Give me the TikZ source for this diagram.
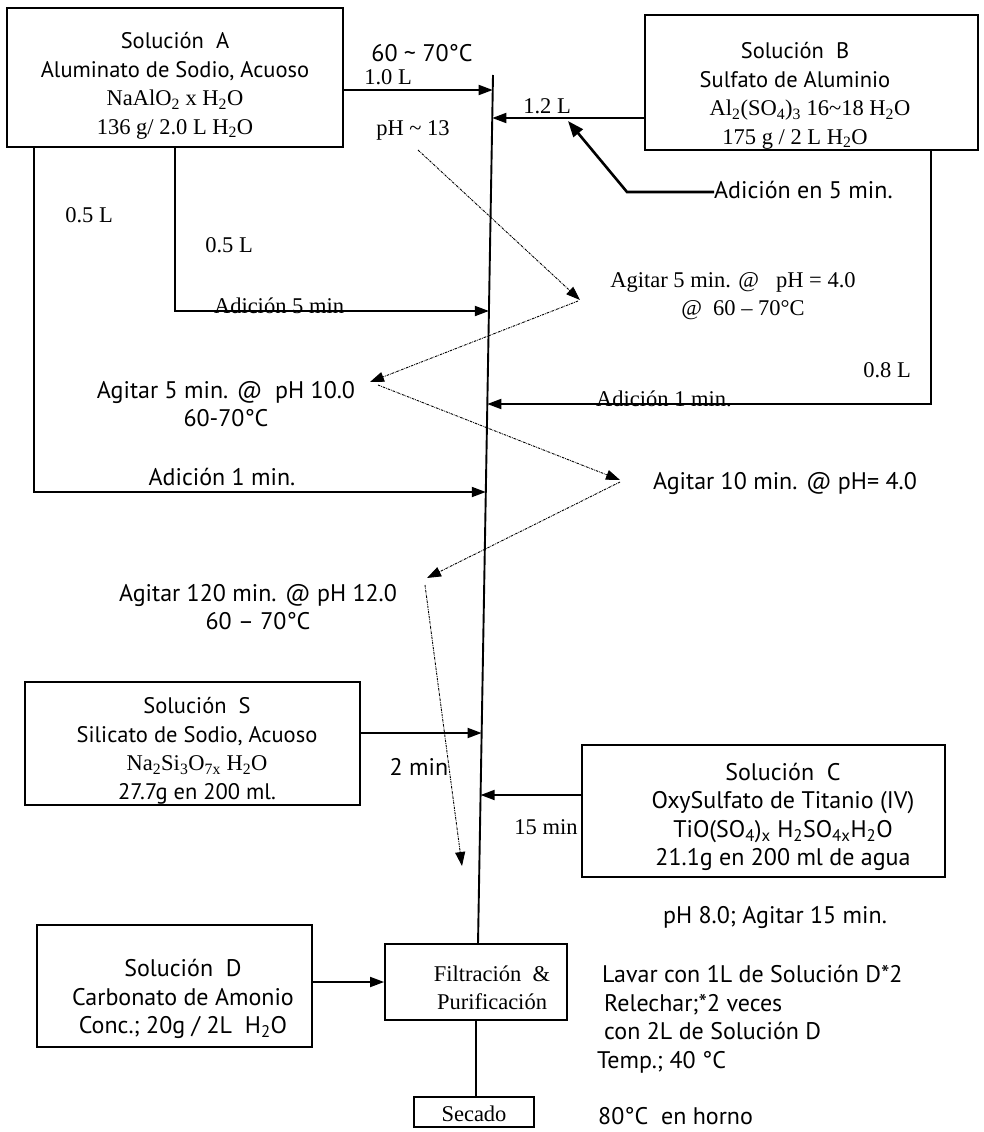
\documentclass[tikz,border=0pt]{standalone}
\usepackage{fontspec}
\setmainfont{Liberation Serif}
\newfontfamily\opt{PT Sans}
\usetikzlibrary{arrows.meta,calc}
\begin{document}
\begin{tikzpicture}[x=1pt,y=-1pt,
  box/.style={draw,line width=1.8pt,inner sep=0pt},
  tx/.style={font=\fontsize{22.5}{28.5}\selectfont,align=center,inner sep=0pt},
  op/.style={font=\opt\fontsize{24}{28.5}\selectfont,align=center,inner sep=0pt},
  arr/.style={-{Triangle[length=14pt,width=10pt]},line width=1.8pt},
  thickarr/.style={-{Triangle[length=16pt,width=12pt]},line width=2.6pt},
  dotarr/.style={-{Triangle[length=14pt,width=10pt]},line width=0.9pt,dash pattern=on 2.5pt off 1pt on 0.7pt off 1pt},
  mainln/.style={line width=1.9pt}]
\useasboundingbox (0,0) rectangle (984,1132);

% boxes
\node[box,minimum width=336pt,minimum height=139pt] (A) at (175,77.5) {};
\node[tx] (Atx) at (175,86) {{\opt Solución\ \ A}\\{\opt Aluminato de Sodio, Acuoso}\\NaAlO\textsubscript{2} x H\textsubscript{2}O\\136 g/ 2.0 L H\textsubscript{2}O};

\node[box,minimum width=333pt,minimum height=135pt] (B) at (811.5,82.5) {};
\node[tx] (Btx) at (795,96) {{\opt Solución\ \ B}\\{\opt Sulfato de Aluminio}\\\hspace*{30pt}Al\textsubscript{2}(SO\textsubscript{4})\textsubscript{3} 16\textasciitilde18 H\textsubscript{2}O\\175 g / 2 L H\textsubscript{2}O};

\node[box,minimum width=335pt,minimum height=123pt] (S) at (192.5,743.5) {};
\node[tx] (Stx) at (197,751) {{\opt Solución\ \ S}\\{\opt Silicato de Sodio, Acuoso}\\Na\textsubscript{2}Si\textsubscript{3}O\textsubscript{7x} H\textsubscript{2}O\\{\opt 27.7g en 200 ml.}};

\node[box,minimum width=363pt,minimum height=132pt] (C) at (763.5,811) {};
\node[op] (Ctx) at (783,817) {Solución\ \ C\\OxySulfato de Titanio (IV)\\TiO(SO\textsubscript{4})\textsubscript{x} H\textsubscript{2}SO\textsubscript{4x}H\textsubscript{2}O\\21.1g en 200 ml de agua};

\node[box,minimum width=275pt,minimum height=122pt] (D) at (174.5,986) {};
\node[op] (Dtx) at (183,999) {Solución\ \ D\\Carbonato de Amonio\\Conc.; 20g / 2L\ \ H\textsubscript{2}O};

\node[box,minimum width=182pt,minimum height=76pt] (F) at (476,982) {};
\node[tx] (Ftx) at (492,988) {Filtración\ \ \&\\Purificación};

\node[box,minimum width=120pt,minimum height=30pt] (Sec) at (474,1112) {};
\node[tx] (Sectx) at (474,1114) {Secado};

% main line
\coordinate (mtop) at (493,75);
\coordinate (mbot) at (478,944);
\draw[mainln] (mtop) -- (mbot);

% tips on main line
\coordinate (tA) at (492.7,90);
\coordinate (tB) at (492.3,118);
\coordinate (tA5) at (488.9,311);
\coordinate (tB1) at (487.3,404);
\coordinate (tA1) at (485.8,492);
\coordinate (tS) at (481.6,733);
\coordinate (tC) at (480.6,795);

\draw[arr] (A.east |- tA) -- (tA);
\draw[arr] (B.west |- tB) -- (tB);
\draw[arr] (A.south) -- (A.south |- tA5) -- (tA5);
\coordinate (aL) at ($(A.south west)+(28,0)$);
\draw[arr] (aL) -- (aL |- tA1) -- (tA1);
\coordinate (bR) at ($(B.south east)+(-48,0)$);
\draw[arr] (bR) -- (bR |- tB1) -- (tB1);
\draw[arr] (S.east |- tS) -- (tS);
\draw[arr] (C.west |- tC) -- (tC);
\draw[arr] (D.east |- F.west) -- (F.west);
\draw[mainln] (F.south) -- (F.south |- Sec.north);

% thick arrow
\node[op,anchor=west] (adtx) at (714,190) {Adición en 5 min.};
\coordinate (adK) at (627,192);
\coordinate (adT) at (568,121);
\draw[thickarr] (adtx.west |- adK) -- (adK) -- (adT);

% labels
\node[op] (l6070) at (422,53) {60 \textasciitilde{} 70°C};
\node[tx] (l10) at (388,77) {1.0 L};
\node[tx] (lph) at (413,130) {pH \textasciitilde{} 13};
\node[tx] (l05a) at (89,215) {0.5 L};
\node[tx] (l05b) at (229,245) {0.5 L};
\node[tx,anchor=base] (ad5) at (279,313) {Adición 5 min};
\node[op] (ad1L) at (222,477) {Adición 1 min.};
\node[tx] (l12) at (547,106) {1.2 L};
\node[tx,anchor=base] (ad1R) at (664,406) {Adición 1 min.};
\node[tx] (l08) at (887,370) {0.8 L};
\node[tx] (ag1) at (733,296) {Agitar 5 min. @\ \ \ pH = 4.0\\\hspace*{20pt}@\ \ 60 – 70°C};
\node[op] (ag2) at (226,404) {Agitar 5 min. @\ \ pH 10.0\\60-70°C};
\node[op] (ag3) at (785,483) {Agitar 10 min. @ pH= 4.0};
\node[op] (ag4) at (258,607) {Agitar 120 min. @ pH 12.0\\60 – 70°C};
\node[op] (l2min) at (419,767) {2 min};
\node[tx] (l15) at (546,827) {15 min};
\node[op] (lph8) at (775,917) {pH 8.0; Agitar 15 min.};
\node[op,anchor=west,align=left] (lav) at (597,1019) {\hspace*{5pt}Lavar con 1L de Solución D*2\\\hspace*{7pt}Relechar;*2 veces\\\hspace*{7pt}con 2L de Solución D\\Temp.; 40 °C};
\node[op,anchor=west] (horno) at (598,1116) {80°C\ \ en horno};

% dotted arrows
\coordinate (d0) at (418,150);
\coordinate (d1) at (580,300);
\coordinate (d2) at (370,382);
\coordinate (d3) at (620,480);
\coordinate (d4) at (427,578);
\coordinate (d5) at (462,866);
\draw[dotarr] (d0) -- (d1);
\draw[dotarr] ($(d1)+(-2,1)$) -- (d2);
\draw[dotarr] ($(d2)+(8,3)$) -- (d3);
\draw[dotarr] ($(d3)+(0,2)$) -- (d4);
\draw[dotarr] ($(d4)+(-2,7)$) -- (d5);
\end{tikzpicture}
\end{document}
